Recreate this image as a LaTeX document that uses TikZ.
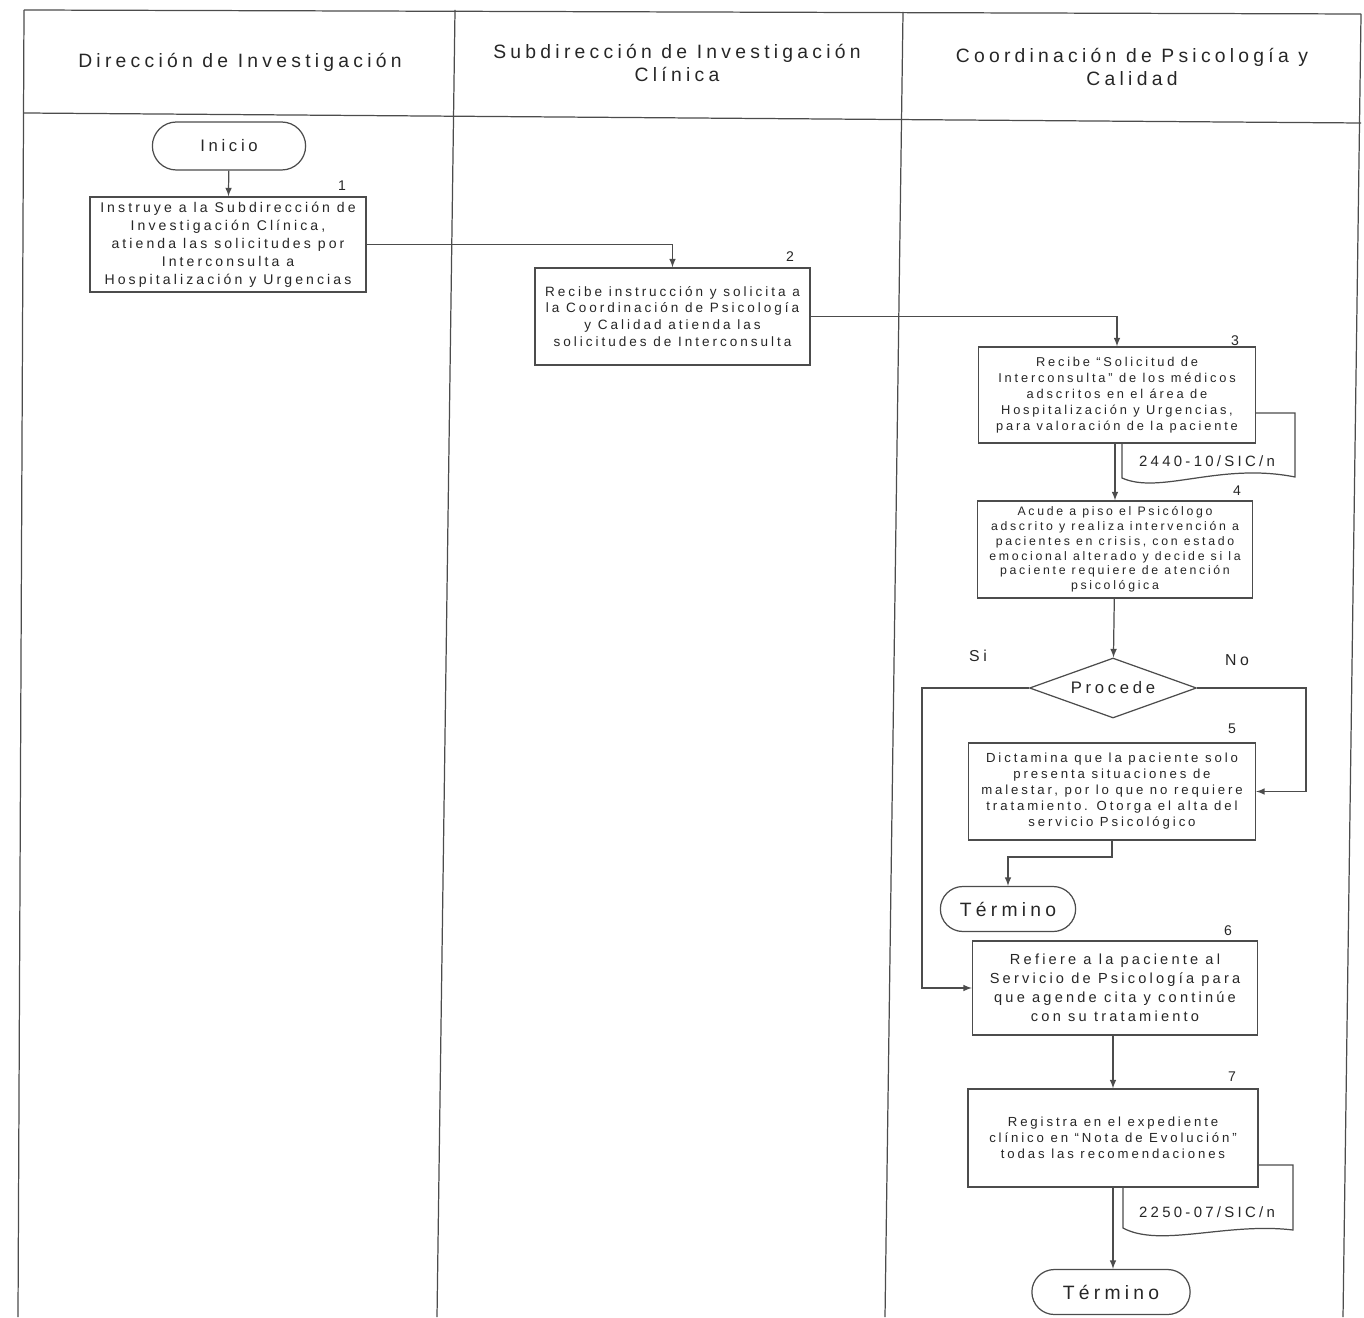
\documentclass[tikz,border=0pt]{standalone}
\usepackage{fontspec}
\setmainfont{Liberation Sans}
\newfontfamily\spacedfont[LetterSpace=22]{Liberation Sans}
\usetikzlibrary{shapes.geometric,shapes.misc}
\newcommand{\boxtext}[2]{\spacedfont\fontsize{#1}{#2}\selectfont}

\begin{document}
\begin{tikzpicture}[x=0.02cm,y=-0.02cm,>=latex,black!70,line width=0.7pt,text=black!85]

  \useasboundingbox (0,0) rectangle (1364,1317);

  % Lanes
  \draw (24,10) -- (1361,14);
  \draw (24,113) -- (1361,123);
  \draw (24,10) -- (18,1317);
  \draw (455,10) -- (437,1317);
  \draw (903,12) -- (885,1317);
  \draw (1361,14) -- (1343,1317);

  \begin{scope}[every node/.style={align=center,font=\boxtext{11}{13}}]
    \node (hdir)  at (240,62)  {Dirección de Investigación};
    \node (hsub)  at (677,63)  {Subdirección de Investigación\\Clínica};
    \node (hcoor) at (1132,67) {Coordinación de Psicología y\\Calidad};
  \end{scope}

  % Documents (behind the boxes)
  \draw[fill=white] (1122,413) -- (1295,413) -- (1295,477)
    .. controls (1220,462) and (1160,495) .. (1122,478) -- cycle;
  \node[font=\boxtext{8.5}{10}] (doc1) at (1207,461) {2440-10/SIC/n};
  \draw[fill=white] (1123,1165) -- (1293,1165) -- (1293,1230)
    .. controls (1227,1222) and (1160,1248) .. (1123,1228) -- cycle;
  \node[font=\boxtext{8.5}{10}] (doc2) at (1207,1212) {2250-07/SIC/n};

  \begin{scope}[every node/.style={draw,rectangle,fill=white,align=center,inner sep=1pt}]
    \node[minimum width=5.52cm,minimum height=1.9cm,font=\boxtext{8}{10.2}] (b1) at (228,244.5)
      {Instruye a la Subdirección de\\Investigación Clínica,\\atienda las solicitudes por\\Interconsulta a\\Hospitalización y Urgencias};
    \node[minimum width=5.5cm,minimum height=1.94cm,font=\boxtext{7.7}{9.6}] (b2) at (672.5,316.5)
      {Recibe instrucción y solicita a\\la Coordinación de Psicología\\y Calidad atienda las\\solicitudes de Interconsulta};
    \node[minimum width=5.54cm,minimum height=1.92cm,font=\boxtext{7.3}{9.1}] (b3) at (1117,395)
      {Recibe “Solicitud de\\Interconsulta” de los médicos\\adscritos en el área de\\Hospitalización y Urgencias,\\para valoración de la paciente};
    \node[minimum width=5.5cm,minimum height=1.94cm,font=\boxtext{7}{8.4}] (b4) at (1115,549.5)
      {Acude a piso el Psicólogo\\adscrito y realiza intervención a\\pacientes en crisis, con estado\\emocional alterado y decide si la\\paciente requiere de atención\\psicológica};
    \node[minimum width=5.74cm,minimum height=1.94cm,font=\boxtext{7.5}{9.1}] (b5) at (1112,791.5)
      {Dictamina que la paciente solo\\presenta situaciones de\\malestar, por lo que no requiere\\tratamiento. Otorga el alta del\\servicio Psicológico};
    \node[minimum width=5.7cm,minimum height=1.88cm,font=\boxtext{8.3}{10.8}] (b6) at (1115,988)
      {Refiere a la paciente al\\Servicio de Psicología para\\que agende cita y continúe\\con su tratamiento};
    \node[minimum width=5.8cm,minimum height=1.96cm,font=\boxtext{7.5}{9.1}] (b7) at (1113,1138)
      {Registra en el expediente\\clínico en “Nota de Evolución”\\todas las recomendaciones};
  \end{scope}

  % Terminals and decision
  \node[draw,rounded rectangle,minimum width=3.3cm,minimum height=0.96cm,font=\boxtext{9.5}{11}] (inicio) at (229,146) {Inicio};
  \node[draw,rounded rectangle,minimum width=2.94cm,minimum height=0.9cm,font=\boxtext{11}{13}] (term1) at (1008,909) {Término};
  \node[draw,rounded rectangle,minimum width=3.4cm,minimum height=0.9cm,font=\boxtext{11}{13}] (term2) at (1111,1292) {Término};
  \node[draw,diamond,aspect=2.8,minimum width=3.34cm,minimum height=1.2cm,inner sep=0pt,font=\boxtext{9.5}{12}] (proc) at (1113,688) {Procede};

  \begin{scope}[every node/.style={font=\boxtext{8}{10}}]
    \node (n1) at (342,186) {1};
    \node (n2) at (790,257) {2};
    \node (n3) at (1235,341) {3};
    \node (n4) at (1237,491) {4};
    \node (n5) at (1232,729) {5};
    \node (n6) at (1228,931) {6};
    \node (n7) at (1232,1077) {7};
    \node[font=\boxtext{9}{11}] (si) at (978,656) {Si};
    \node[font=\boxtext{9}{11}] (no) at (1237,660) {No};
  \end{scope}

  \coordinate (sileft) at (922,688);
  \coordinate (noright) at (1306,688);
  \coordinate (b5down) at (1112,857);

  \draw[->] (inicio) -- (b1);
  \draw[->] (b1.east) -| (b2.north);
  \draw[->] (b2.east) -| (b3.north);
  \draw[->] (b3.south -| b4.north) -- (b4.north);
  \draw[->] (b4) -- (proc);
  \draw[->] (proc.west) -- (sileft) |- (b6.west);
  \draw[->] (proc.east) -- (noright) |- (b5.east);
  \draw[->] (b5.south) -- (b5down) -| (term1.north);
  \draw[->] (b6.south -| b7.north) -- (b7.north);
  \draw[->] (b7.south) -- (b7.south |- term2.north);

\end{tikzpicture}
\end{document}
